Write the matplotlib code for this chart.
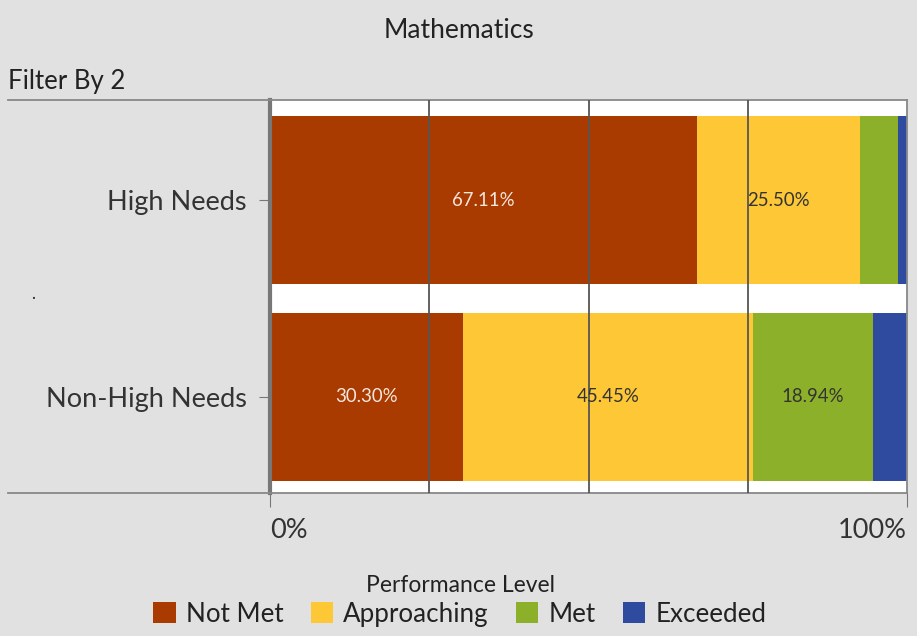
import matplotlib
matplotlib.use("Agg")
import matplotlib.pyplot as plt
from matplotlib.lines import Line2D
import matplotlib.transforms as mtransforms
import numpy as np

plt.rcParams['font.family'] = ['Lato', 'DejaVu Sans']

categories = ["High Needs", "Non-High Needs"]
levels = ["Not Met", "Approaching", "Met", "Exceeded"]
not_met = [67.11, 30.30]
approaching = [25.50, 45.45]
met = [5.90, 18.94]
exceeded = [1.49, 5.31]
show_label = {"Not Met": [True, True], "Approaching": [True, True],
              "Met": [False, True], "Exceeded": [False, False]}
colors = ["#A93B00", "#FDC735", "#8DB02A", "#2E4BA0"]
label_colors = ["#f5e6de", "#333333", "#333333", "#ffffff"]
xticks = [0, 100]
xticklabels = ["0%", "100%"]
grid_x = [25, 50, 75]

bg = "#e1e1e1"
W, H = 917, 636
fig = plt.figure(figsize=(W / 100, H / 100), dpi=100, facecolor=bg)
ax = fig.add_axes([270 / W, 1 - 493 / H, (907 - 270) / W, (493 - 100) / H])
ax.set_facecolor("white")

y = np.arange(len(categories))
left = np.zeros(len(categories))
series = [not_met, approaching, met, exceeded]
for name, vals, col, lc in zip(levels, series, colors, label_colors):
    vals = np.array(vals)
    ax.barh(y, vals, left=left, height=0.855, color=col, label=name, zorder=2)
    for i, v in enumerate(vals):
        if show_label[name][i]:
            ax.text(left[i] + v / 2, y[i], f"{v:.2f}%", ha="center", va="center",
                    fontsize=13.4, color=lc, zorder=4)
    left += vals

for gx in grid_x:
    ax.axvline(gx, color="#555555", lw=1.3, zorder=3)

ax.set_xlim(0, 100)
ax.set_ylim(1.491, -0.509)
ax.set_yticks(y)
ax.set_yticklabels(categories, fontsize=19.5, color="#333333")
ax.set_xticks(xticks)
ax.set_xticklabels(xticklabels, fontsize=19.5, color="#333333")
lbls = ax.get_xticklabels()
lbls[0].set_ha("left")
lbls[-1].set_ha("right")
lbls[-1].set_transform(lbls[-1].get_transform() +
                       mtransforms.ScaledTranslation(5 / 100, 0, fig.dpi_scale_trans))
ax.tick_params(axis="y", length=8, color="#777777", pad=9)
ax.tick_params(axis="x", length=10, color="#777777", pad=8)

for s in ["top", "right", "bottom"]:
    ax.spines[s].set_color("#888888")
    ax.spines[s].set_linewidth(1.3)
ax.spines["left"].set_color("#777777")
ax.spines["left"].set_linewidth(3)

# horizontal rules extending to the left edge
for yy in [100, 493]:
    fig.add_artist(Line2D([8 / W, 270 / W], [1 - yy / H, 1 - yy / H],
                          color="#888888", lw=1.3, transform=fig.transFigure))

fig.text(459 / W, 1 - 30 / H, "Mathematics", ha="center", va="center",
         fontsize=19, color="#222222")
fig.text(8 / W, 1 - 82 / H, "Filter By 2", ha="left", va="center",
         fontsize=18.5, color="#222222")
fig.text(33 / W, 1 - 294 / H, ".", ha="center", va="center", fontsize=12, color="#222222")

leg = fig.legend(loc="center", bbox_to_anchor=(460 / W, 1 - 601 / H), ncol=4,
                 frameon=False, fontsize=18.7, title="Performance Level",
                 title_fontsize=16.5, handlelength=0.85, handleheight=0.85,
                 handletextpad=0.4, columnspacing=1.05, borderpad=0,
                 labelspacing=0.2)
leg.get_title().set_color("#222222")
for t in leg.get_texts():
    t.set_color("#222222")

fig.savefig("out.png", dpi=100, facecolor=bg)
